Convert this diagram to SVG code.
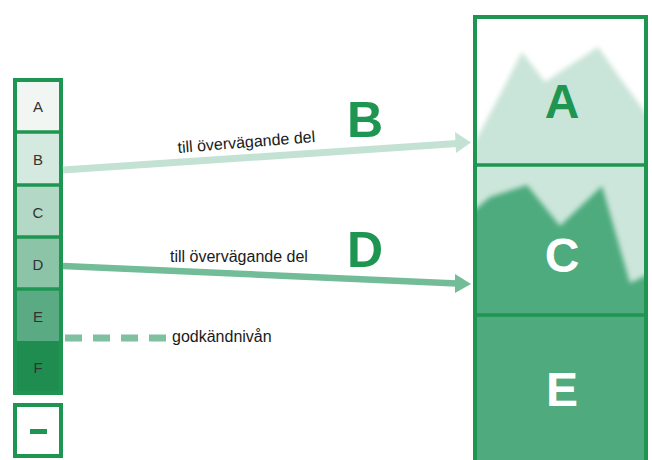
<svg xmlns="http://www.w3.org/2000/svg" width="652" height="460" viewBox="0 0 652 460">
  <style>
    .bd { fill: none; stroke: #1e9652; stroke-width: 4; }
    .sep { stroke: #1e9652; stroke-width: 3.5; }
    .cl { font-family: "Liberation Sans", Arial, sans-serif; font-size: 15px; fill: #333; text-anchor: middle; }
    .lab { font-family: "Liberation Sans", Arial, sans-serif; font-size: 16px; fill: #1a1a1a; }
    .big { font-family: "Liberation Sans", Arial, sans-serif; font-weight: bold; font-size: 50px; fill: #1e9652; }
    .gr { font-family: "Liberation Sans", Arial, sans-serif; font-weight: bold; font-size: 48px; text-anchor: middle; }
  </style>
  <defs>
    <filter id="blur" x="-5%" y="-5%" width="110%" height="110%">
      <feGaussianBlur stdDeviation="2.5"/>
    </filter>
    <clipPath id="clipA"><rect x="477" y="19" width="167" height="145"/></clipPath>
    <clipPath id="clipC"><rect x="477" y="166" width="167" height="148"/></clipPath>
  </defs>

  <rect width="652" height="460" fill="#ffffff"/>

  <!-- left grade column -->
  <g id="grade-column">
    <rect x="15" y="80" width="46" height="53" fill="#f1f6f3"/>
    <rect x="15" y="132" width="46" height="53" fill="#d4e9df"/>
    <rect x="15" y="185" width="46" height="52" fill="#b4d8c6"/>
    <rect x="15" y="237" width="46" height="52" fill="#8cc4a8"/>
    <rect x="15" y="289" width="46" height="52" fill="#5aaa83"/>
    <rect x="15" y="341" width="46" height="52" fill="#1f8d50"/>
    <line class="sep" x1="15" y1="132" x2="61" y2="132"/>
    <line class="sep" x1="15" y1="185" x2="61" y2="185"/>
    <line class="sep" x1="15" y1="237" x2="61" y2="237"/>
    <line class="sep" x1="15" y1="289" x2="61" y2="289"/>
    <rect class="bd" x="15" y="80" width="46" height="313"/>
    <text class="cl" x="38" y="112">A</text>
    <text class="cl" x="38" y="165">B</text>
    <text class="cl" x="38" y="218">C</text>
    <text class="cl" x="38" y="270">D</text>
    <text class="cl" x="38" y="322">E</text>
    <text class="cl" x="38" y="373">F</text>
  </g>

  <g id="minus-box">
    <rect class="bd" x="15" y="405" width="46" height="51"/>
    <rect x="30" y="429" width="17" height="5" fill="#1e9652"/>
  </g>

  <!-- right column -->
  <g id="section-A">
    <rect x="477" y="19" width="167" height="146" fill="#ffffff"/>
    <g clip-path="url(#clipA)">
      <polygon filter="url(#blur)" fill="#c9e4d8" points="470,150 477,138 500,95 522,52 545,82 563,70 598,47 620,78 645,112 652,118 652,170 470,170"/>
    </g>
    <text class="gr" x="562" y="118" fill="#1e9652">A</text>
  </g>
  <g id="section-C">
    <rect x="477" y="165" width="167" height="150" fill="#cde6db"/>
    <g clip-path="url(#clipC)">
      <polygon filter="url(#blur)" fill="#4eab7e" points="470,212 477,208 490,197 527,185 560,226 602,186 630,283 645,276 652,274 652,320 470,320"/>
    </g>
    <text class="gr" x="562" y="272" fill="#ffffff">C</text>
  </g>
  <g id="section-E">
    <rect x="477" y="315" width="167" height="150" fill="#4fab7e"/>
    <text class="gr" x="562" y="406" fill="#ffffff">E</text>
  </g>
  <g id="right-frame">
    <rect class="bd" x="475" y="17" width="171" height="460"/>
    <line class="sep" x1="475" y1="165" x2="646" y2="165" stroke-width="4"/>
    <line class="sep" x1="475" y1="315" x2="646" y2="315" stroke-width="4"/>
  </g>

  <!-- connectors -->
  <g id="connectors">
    <g id="arrow-B">
      <line x1="63" y1="170" x2="457" y2="143.5" stroke="#c3e2d4" stroke-width="7"/>
      <polygon points="455,132 471,142.5 456,153" fill="#c3e2d4"/>
    </g>
    <g id="arrow-D">
      <line x1="63" y1="266" x2="457" y2="283.5" stroke="#72bc98" stroke-width="6.5"/>
      <polygon points="455,274 471,284 455,293" fill="#72bc98"/>
    </g>
    <line id="pass-level" x1="65" y1="338" x2="166" y2="338" stroke="#7fc0a1" stroke-width="7" stroke-dasharray="17,11"/>
  </g>

  <!-- labels -->
  <text class="lab" x="0" y="0" transform="translate(178,153) rotate(-4.6)">till övervägande del</text>
  <text class="big" x="347" y="137">B</text>
  <text class="lab" x="170" y="262">till övervägande del</text>
  <text class="big" x="347" y="267">D</text>
  <text class="lab" x="172" y="342">godkändnivån</text>
</svg>
